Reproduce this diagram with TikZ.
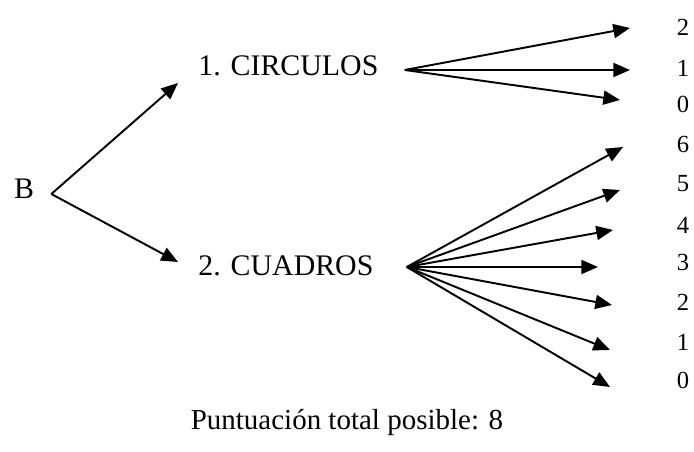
\documentclass[tikz,border=0pt]{standalone}
\usepackage{fontspec}
\setmainfont{Liberation Serif}
\usetikzlibrary{arrows.meta}
\tikzset{
  branch/.style={line width=1.1pt,-{Triangle[length=9.5pt,width=8pt]}},
  item/.style={inner sep=0pt,font=\fontsize{17}{20}\selectfont},
  score/.style={inner sep=0pt,font=\fontsize{14}{17}\selectfont},
}
\begin{document}
\begin{tikzpicture}[x=0.02cm,y=0.02cm]
\useasboundingbox (0,0) rectangle (694,452);

% Root and categories
\node[item] (B) at (24,263) {B};
\node[item,anchor=west] (c1) at (198,386) {1. CIRCULOS};
\node[item,anchor=west] (c2) at (198,186) {2. CUADROS};

\coordinate (Bout) at ([shift={(17,-5)}]B.east);
\coordinate (c1in) at (178,369);
\coordinate (c2in) at (178,190);
\draw[branch] (Bout) -- (c1in);
\draw[branch] (Bout) -- (c2in);

% Scores for CIRCULOS
\coordinate (c1out) at ([shift={(26,-4)}]c1.east);
\foreach \s/\ly/\tx/\ty in {2/425/630/424, 1/384/630/382, 0/348/620/352} {
  \node[score] (c1s\s) at (683,\ly) {\s};
  \coordinate (c1t\s) at (\tx,\ty);
  \draw[branch] (c1out) -- (c1t\s);
}

% Scores for CUADROS
\coordinate (c2out) at ([shift={(33,-1)}]c2.east);
\foreach \s/\ly/\tx/\ty in {6/308/623/305, 5/268/620/262, 4/227/613/222, 3/190/598/185, 2/150/612/147, 1/110/610/102, 0/72/610/65} {
  \node[score] (c2s\s) at (683,\ly) {\s};
  \coordinate (c2t\s) at (\tx,\ty);
  \draw[branch] (c2out) -- (c2t\s);
}

% Total
\node[font=\fontsize{16.5}{20}\selectfont] (total) at (347,29) {Puntuación total posible: 8};
\end{tikzpicture}
\end{document}
